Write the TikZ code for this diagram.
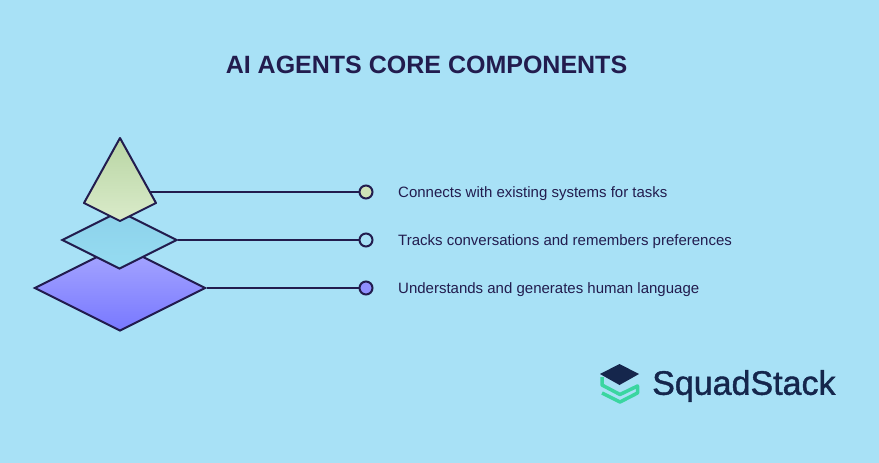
\documentclass[tikz,border=0pt]{standalone}
\usepackage{xcolor}
\usepackage{fontspec}
\usetikzlibrary{shapes.geometric}
\setmainfont{Liberation Sans}
\newfontfamily\logofont[FakeBold=1.2]{Liberation Sans}
\definecolor{skybg}{HTML}{A8E1F6}
\definecolor{inkline}{HTML}{221C4E}
\definecolor{logonavy}{HTML}{15264C}
\definecolor{logogreen}{HTML}{3AD6A0}
\definecolor{kitehigh}{HTML}{B8D5A3}
\definecolor{kitelow}{HTML}{DAEBCA}
\definecolor{midhigh}{HTML}{8DD2EB}
\definecolor{midlow}{HTML}{96DCF1}
\definecolor{lowhigh}{HTML}{A8A8FF}
\definecolor{lowlow}{HTML}{7878FF}
\definecolor{topdotfill}{HTML}{CFE3B8}
\definecolor{lowdotfill}{HTML}{9090FF}
\begin{document}
\begin{tikzpicture}[x=1pt, y=-1pt,
    layer/.style={diamond, draw=inkline, line width=2pt, inner sep=0pt},
    leader/.style={draw=inkline, line width=2pt},
    dot/.style={circle, draw=inkline, line width=2pt, minimum size=13pt, inner sep=0pt},
    caption/.style={anchor=west, inner sep=0pt, text=inkline, font=\fontsize{15}{18}\selectfont}]
    \fill[skybg] (0,0) rectangle (879,463);
    \useasboundingbox (0,0) rectangle (879,463);
    \node[inner sep=0pt, text=inkline, font=\fontsize{25}{28}\selectfont\bfseries] (heading) at (426.5,65) {AI AGENTS CORE COMPONENTS};

    \node[layer, minimum width=171pt, minimum height=86pt, top color=lowhigh, bottom color=lowlow] (bottomlayer) at (120,288) {};
    \node[layer, minimum width=115pt, minimum height=58pt, top color=midhigh, bottom color=midlow] (middlelayer) at (119.5,240) {};
    \coordinate (kitetop) at (120,138);
    \coordinate (kiteright) at (156,203);
    \coordinate (kitebottom) at (120,221);
    \coordinate (kiteleft) at (84,203);
    \coordinate (kiteedge) at (150,192);
    \draw[draw=inkline, line width=2pt, top color=kitehigh, bottom color=kitelow, line join=round]
        (kitetop) -- (kiteright) -- (kitebottom) -- (kiteleft) -- cycle;

    \node[dot, fill=topdotfill] (topdot) at (366,192) {};
    \node[dot, fill=skybg] (middot) at (366,240) {};
    \node[dot, fill=lowdotfill] (lowdot) at (366,288) {};
    \draw[leader] (kiteedge) -- (topdot);
    \draw[leader] (middlelayer.east) -- (middot);
    \draw[leader] (bottomlayer.east) -- (lowdot);

    \node[caption] (toptext) at (398,193.5) {Connects with existing systems for tasks};
    \node[caption] (midtext) at (398,241.5) {Tracks conversations and remembers preferences};
    \node[caption] (lowtext) at (398,289.5) {Understands and generates human language};

    % logo
    \draw[logogreen, line width=3.5pt, line join=round] (602,377) -- (602,385) -- (620,394.5) -- (637.5,386) -- (637.5,393) -- (620,402) -- (602,393);
    \fill[logonavy] (619.5,364) -- (639,374) -- (619.5,385) -- (600,374) -- cycle;
    \node[anchor=west, inner sep=0pt, text=logonavy, font=\logofont\fontsize{34}{36}\selectfont] (logotext) at (652,386) {SquadStack};
\end{tikzpicture}
\end{document}
